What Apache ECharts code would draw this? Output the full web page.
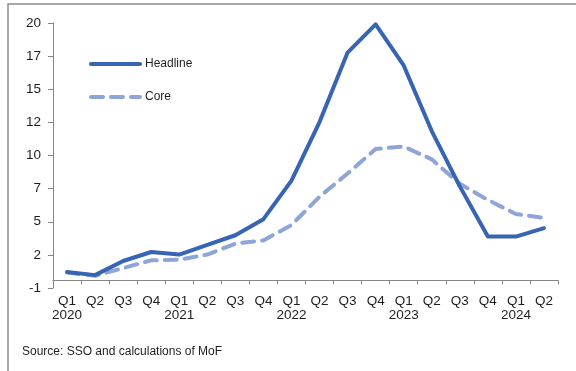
<!DOCTYPE html>
<html>
<head>
<meta charset="utf-8">
<script src="https://cdn.jsdelivr.net/npm/echarts@6/dist/echarts.min.js"></script>
<style>
  html, body { margin: 0; padding: 0; background: #fff; }
  #chart { width: 576px; height: 371px; }
</style>
</head>
<body>
<div id="chart"></div>
<script>
// Quarterly inflation, % y/y
const quarters = ['Q1','Q2','Q3','Q4','Q1','Q2','Q3','Q4','Q1','Q2','Q3','Q4','Q1','Q2','Q3','Q4','Q1','Q2'];
const years    = ['2020','','','','2021','','','','2022','','','','2023','','','','2024',''];
const headline = [0.65, 0.4, 1.5, 2.2, 2.0, 2.75, 3.5, 4.75, 7.75, 12.3, 17.7, 19.9, 16.7, 11.6, 7.3, 3.4, 3.4, 4.05];
const core     = [0.6, 0.35, 0.95, 1.55, 1.6, 2.0, 2.85, 3.1, 4.3, 6.5, 8.3, 10.2, 10.4, 9.4, 7.5, 6.25, 5.15, 4.85];

// Value-axis tick positions and the text printed at each
const yTickValues = [-0.6, 1.975, 4.55, 7.125, 9.7, 12.275, 14.85, 17.425, 20];
const yTickLabels = ['-1', '2', '5', '7', '10', '12', '15', '17', '20'];

const categories = quarters.map((q, i) => years[i] ? q + '\n' + years[i] : q);

const HEADLINE_COLOR = '#3864B4';
const CORE_COLOR = '#8EA5DA';
const AXIS_COLOR = '#868686';
const TEXT_COLOR = '#1e1e1e';
const FONT = '"Liberation Sans", Arial, sans-serif';

const chart = echarts.init(document.getElementById('chart'), null, { renderer: 'canvas' });

chart.setOption({
  animation: false,
  backgroundColor: '#fff',
  textStyle: { fontFamily: FONT },
  grid: { left: 53, right: 18, top: 23, bottom: 83, containLabel: false },
  legend: {
    left: 89,
    top: 58,
    orient: 'vertical',
    padding: 0,
    itemWidth: 49,
    itemHeight: 12,
    itemGap: 21,
    textStyle: { fontSize: 12, color: TEXT_COLOR, fontFamily: FONT },
    itemStyle: { opacity: 0 },
    lineStyle: { width: 4, cap: 'round' },
    data: ['Headline', 'Core']
  },
  xAxis: {
    type: 'category',
    data: categories,
    boundaryGap: true,
    axisLine: { show: true, onZero: true, lineStyle: { color: AXIS_COLOR, width: 1 } },
    axisTick: { show: true, length: 4, interval: 0, lineStyle: { color: AXIS_COLOR } },
    axisLabel: {
      interval: 0,
      margin: 7,
      fontSize: 13.5,
      lineHeight: 13.5,
      color: TEXT_COLOR,
      fontFamily: FONT,
      verticalAlign: 'top'
    },
    splitLine: { show: false }
  },
  yAxis: {
    type: 'value',
    min: -0.6,
    max: 20,
    axisLine: { show: true, lineStyle: { color: AXIS_COLOR, width: 1 } },
    axisTick: { show: true, length: 5, customValues: yTickValues, lineStyle: { color: AXIS_COLOR } },
    axisLabel: {
      customValues: yTickValues,
      margin: 12,
      fontSize: 13.5,
      color: TEXT_COLOR,
      fontFamily: FONT,
      formatter: function (v) {
        let best = 0;
        for (let i = 1; i < yTickValues.length; i++) {
          if (Math.abs(yTickValues[i] - v) < Math.abs(yTickValues[best] - v)) best = i;
        }
        return yTickLabels[best];
      }
    },
    splitLine: { show: false }
  },
  series: [
    {
      name: 'Headline',
      type: 'line',
      data: headline,
      symbol: 'none',
      z: 3,
      lineStyle: { color: HEADLINE_COLOR, width: 4, cap: 'round', join: 'round' },
      itemStyle: { color: HEADLINE_COLOR }
    },
    {
      name: 'Core',
      type: 'line',
      data: core,
      symbol: 'none',
      z: 2,
      lineStyle: { color: CORE_COLOR, width: 4, type: [12, 8], cap: 'round', join: 'round' },
      itemStyle: { color: CORE_COLOR }
    }
  ],
  graphic: [
    {
      type: 'rect',
      silent: true,
      shape: { x: 8, y: 4, width: 620, height: 420 },
      style: { fill: 'none', stroke: '#8a8a8a', lineWidth: 1.5 }
    },
    {
      type: 'text',
      left: 22,
      top: 346,
      style: {
        text: 'Source: SSO and calculations of MoF',
        fontSize: 12,
        fontFamily: FONT,
        fill: TEXT_COLOR
      }
    }
  ]
});
</script>
</body>
</html>
